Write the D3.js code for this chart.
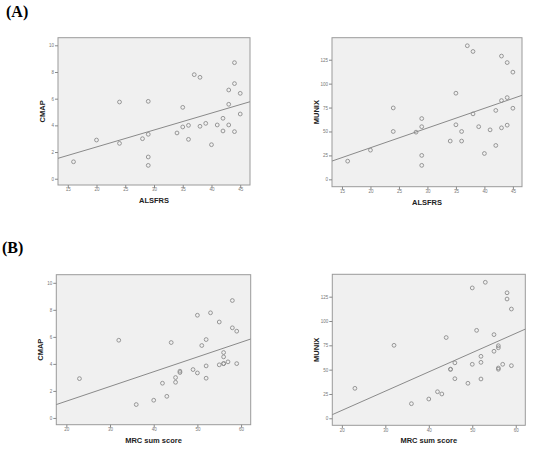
<!DOCTYPE html>
<html><head><meta charset="utf-8">
<script src="https://cdn.jsdelivr.net/npm/d3@7"></script>
<style>body{margin:0;background:#fff}svg{display:block}</style>
</head><body>
<svg id="c" width="544" height="454"></svg>
<script>
// ---- data ----
const alsfrs = [16,20,24,24,28,29,29,29,29,34,35,35,36,36,37,38,38,39,40,41,42,42,43,43,43,44,44,44,45,45];
const cmapA  = [1.27,2.9,5.75,2.65,3.0,5.8,3.33,1.63,1.0,3.43,5.35,3.88,4.0,2.95,7.8,7.6,3.93,4.15,2.55,4.03,4.53,3.58,6.65,5.58,4.03,8.7,7.13,3.53,6.4,4.85];
const alsfrsM = [16,20,24,24,28,29,29,29,29,34,35,35,36,36,37,38,38,39,40,41,42,42,43,43,43,44,44,44,45,45];
const munixA = [19,30.5,74.6,50,49.3,63.5,55,25,14.6,40,90,57,50,40,139.6,133.6,68.4,55,27,51.7,72,35.4,128.8,82.3,53.8,122,85.4,56.6,112,74.3];
const mrcC   = [23,32,36,40,42,43,44,45,45,46,46,49,50,50,51,52,52,52,53,55,55,56,56,56,56,57,58,58,59,59];
const cmapB  = [2.91,5.75,0.99,1.31,2.57,1.6,5.58,2.99,2.64,3.46,3.36,3.58,7.6,3.33,5.36,5.8,3.85,2.94,7.78,7.1,3.93,4.84,4.52,4.02,4.02,4.15,8.69,6.67,6.42,4.02];
const mrcM   = [23,32,36,40,42,43,44,45,45,46,46,49,50,50,51,52,52,52,53,55,55,56,56,56,56,57,58,58,59,59];
const munixB = [30.8,75,15,19.8,27.3,25,83,50.4,50.4,57,40.7,36,134,55.5,90.4,63.7,57.5,40.4,139.8,86,68.9,74.6,72.5,51.7,50.4,55.5,129,122.6,112.3,54.1];
// regression fits [intercept, slope]
const fitA1 = [-0.16, 0.127];
const fitA2 = [-8.2, 2.06];
const fitB1 = [-0.94, 0.109];
const fitB2 = [-31.5, 1.98];
const ticksALSFRS = [15,20,25,30,35,40,45];
const ticksMRC = [20,30,40,50,60];
const ticksCMAP = [0,2,4,6,8,10];
const ticksMUNIX = [0,25,50,75,100,125];
const panelLetters = ["(A)","(B)"];

// ---- drawing ----
const svg = d3.select("#c");
const panels = [
  {x0:58, x1:250, y0:37.7, y1:185, xd:[13.3,46.7], yd:[-0.47,10.57], xs:alsfrs, ys:cmapA, fit:fitA1, xt:ticksALSFRS, yt:ticksCMAP, xl:"ALSFRS", yl:"CMAP"},
  {x0:332, x1:522, y0:37.7, y1:186.7, xd:[13.25,46.6], yd:[-7.7,148], xs:alsfrsM, ys:munixA, fit:fitA2, xt:ticksALSFRS, yt:ticksMUNIX, xl:"ALSFRS", yl:"MUNIX"},
  {x0:56.3, x1:250.7, y0:274.7, y1:424.7, xd:[17.7,62.2], yd:[-0.5,10.6], xs:mrcC, ys:cmapB, fit:fitB1, xt:ticksMRC, yt:ticksCMAP, xl:"MRC sum score", yl:"CMAP"},
  {x0:332.3, x1:525.3, y0:274.3, y1:425.3, xd:[17.8,62.2], yd:[-7.2,148], xs:mrcM, ys:munixB, fit:fitB2, xt:ticksMRC, yt:ticksMUNIX, xl:"MRC sum score", yl:"MUNIX"}
];

panels.forEach(p => {
  const x = d3.scaleLinear().domain(p.xd).range([p.x0, p.x1]);
  const y = d3.scaleLinear().domain(p.yd).range([p.y1, p.y0]);
  const g = svg.append("g");
  g.append("rect").attr("x", p.x0).attr("y", p.y0).attr("width", p.x1-p.x0).attr("height", p.y1-p.y0)
    .attr("fill", "#f0f0f0").attr("stroke", "#9a9a9a").attr("stroke-width", 1);
  const ax = g.append("g").attr("transform", `translate(0,${p.y1})`)
    .call(d3.axisBottom(x).tickValues(p.xt).tickSize(3).tickSizeOuter(0));
  const ay = g.append("g").attr("transform", `translate(${p.x0},0)`)
    .call(d3.axisLeft(y).tickValues(p.yt).tickSize(3).tickSizeOuter(0));
  [ax, ay].forEach(a => {
    a.select(".domain").remove();
    a.selectAll(".tick line").attr("stroke", "#888");
    a.selectAll(".tick text").attr("fill", "#777").style("font", "4.5px Arial, 'Liberation Sans', sans-serif");
  });
  ax.selectAll(".tick text").attr("dy", "0.5em").attr("y", 4);
  ay.selectAll(".tick text").attr("x", -4);
  const f = v => p.fit[0] + p.fit[1]*v;
  g.append("line").attr("x1", x(p.xd[0])).attr("y1", y(f(p.xd[0])))
    .attr("x2", x(p.xd[1])).attr("y2", y(f(p.xd[1])))
    .attr("stroke", "#8a8a8a").attr("stroke-width", 1);
  g.selectAll("circle").data(p.xs.map((v,i)=>[v,p.ys[i]])).join("circle")
    .attr("cx", d=>x(d[0])).attr("cy", d=>y(d[1])).attr("r", 1.9)
    .attr("fill", "none").attr("stroke", "#8c8c8c").attr("stroke-width", 0.9);
  g.append("text").attr("x", (p.x0+p.x1)/2).attr("y", p.y1+18).attr("text-anchor","middle")
    .style("font", "bold 7.5px Arial, 'Liberation Sans', sans-serif").attr("fill","#222").text(p.xl);
  g.append("text").attr("transform", `translate(${p.x0-13.5},${(p.y0+p.y1)/2}) rotate(-90)`)
    .attr("text-anchor","middle")
    .style("font", "bold 7.5px Arial, 'Liberation Sans', sans-serif").attr("fill","#222").text(p.yl);
});

svg.append("text").attr("x", 6).attr("y", 17).text(panelLetters[0])
  .style("font", "bold 16px 'Liberation Serif', 'Times New Roman', serif").attr("fill","#000");
svg.append("text").attr("x", 2).attr("y", 253).text(panelLetters[1])
  .style("font", "bold 16px 'Liberation Serif', 'Times New Roman', serif").attr("fill","#000");
</script>
</body></html>
